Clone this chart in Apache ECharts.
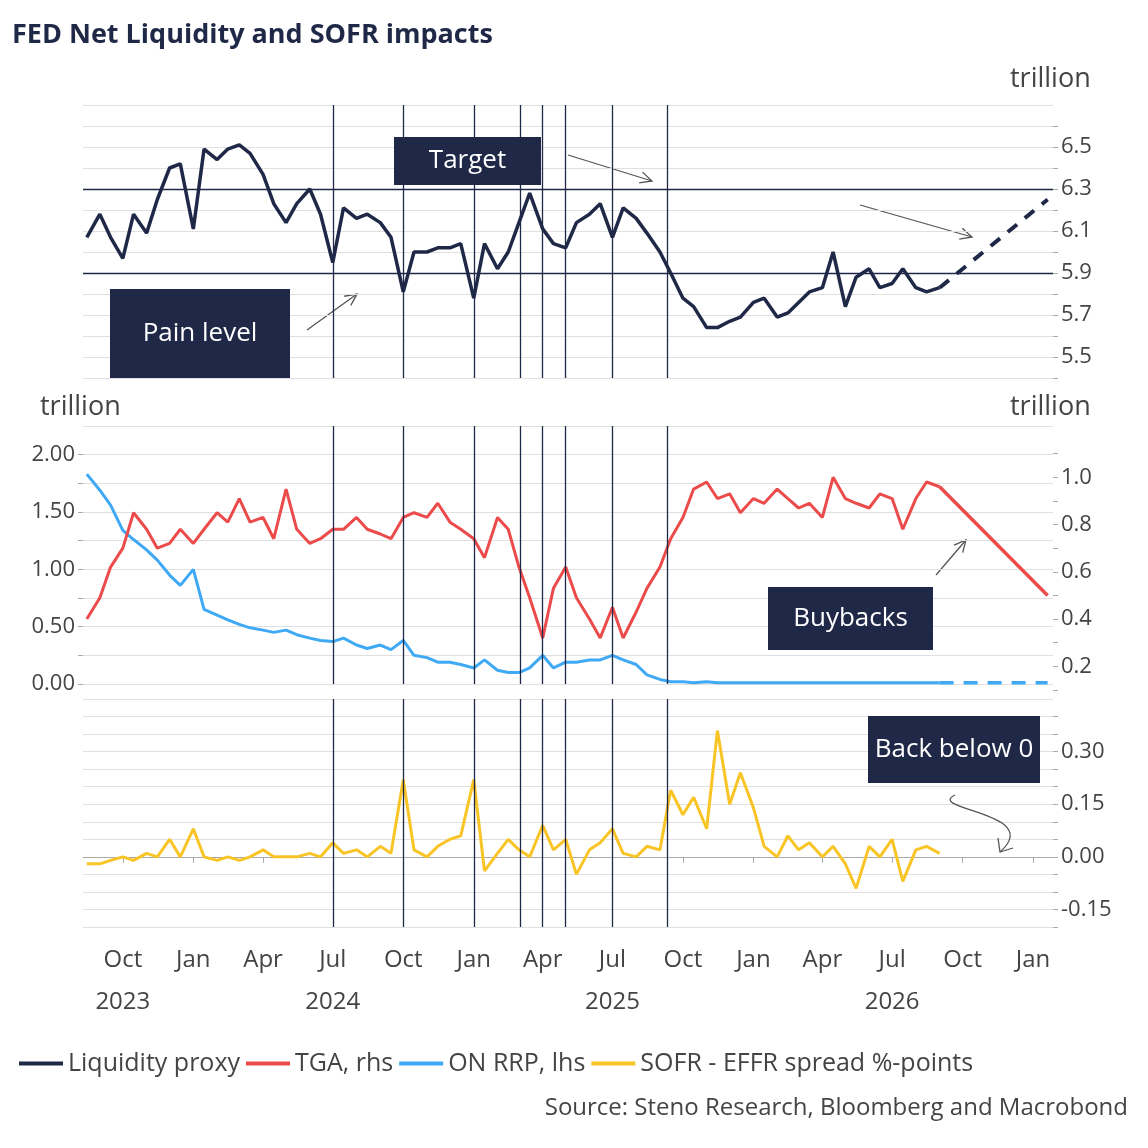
<!DOCTYPE html>
<html>
<head>
<meta charset="utf-8">
<script src="https://cdn.jsdelivr.net/npm/echarts@6/dist/echarts.min.js"></script>
<style>html,body{margin:0;padding:0;background:#fff}#chart{width:1148px;height:1148px}</style>
</head>
<body>
<div id="chart"></div>
<script>
// half-month sample dates, 2023-08-15 .. 2026-09-01
const dates = []
for (let y = 2023, m = 7, d = 15; ; ) {
  dates.push(Date.UTC(y, m, d))
  if (y === 2026 && m === 8 && d === 1) break
  if (d === 1) d = 15
  else { d = 1; m++; if (m > 11) { m = 0; y++ } }
}

const liquidity = [6.07, 6.18, 6.07, 5.97, 6.18, 6.09, 6.25, 6.40, 6.42, 6.11, 6.49, 6.44, 6.49, 6.51, 6.47, 6.37,
  6.23, 6.14, 6.23, 6.30, 6.18, 5.95, 6.21, 6.16, 6.18, 6.14, 6.07, 5.81, 6.00, 6.00, 6.02, 6.02, 6.04, 5.78,
  6.04, 5.92, 6.00, 6.14, 6.28, 6.11, 6.04, 6.02, 6.14, 6.18, 6.23, 6.07, 6.21, 6.16, 6.09, 6.00, 5.90, 5.78,
  5.74, 5.64, 5.64, 5.67, 5.69, 5.76, 5.78, 5.69, 5.71, 5.76, 5.81, 5.83, 6.00, 5.74, 5.88, 5.92, 5.83, 5.85,
  5.92, 5.83, 5.81, 5.83]
const liquidityProj = [[Date.UTC(2026, 8, 1), 5.83], [Date.UTC(2027, 0, 20), 6.25]]

const tga = [0.40, 0.49, 0.62, 0.70, 0.85, 0.78, 0.70, 0.72, 0.78, 0.72, 0.78, 0.85, 0.81, 0.91, 0.81, 0.83,
  0.74, 0.95, 0.78, 0.72, 0.74, 0.78, 0.78, 0.83, 0.78, 0.76, 0.74, 0.83, 0.85, 0.83, 0.89, 0.81, 0.78, 0.74,
  0.66, 0.83, 0.78, 0.62, 0.49, 0.32, 0.53, 0.62, 0.49, 0.40, 0.32, 0.45, 0.32, 0.43, 0.53, 0.62, 0.74, 0.83,
  0.95, 0.98, 0.91, 0.93, 0.85, 0.91, 0.89, 0.95, 0.91, 0.87, 0.89, 0.83, 1.00, 0.91, 0.89, 0.87, 0.93, 0.91,
  0.78, 0.91, 0.98, 0.96]
const tgaProj = [[Date.UTC(2026, 8, 1), 0.96], [Date.UTC(2027, 0, 20), 0.50]]

const onrrp = [1.83, 1.69, 1.56, 1.34, 1.26, 1.17, 1.08, 0.95, 0.86, 1.00, 0.65, 0.60, 0.56, 0.52, 0.49, 0.47,
  0.45, 0.47, 0.43, 0.40, 0.38, 0.37, 0.40, 0.34, 0.31, 0.34, 0.30, 0.38, 0.25, 0.23, 0.19, 0.19, 0.17, 0.14,
  0.21, 0.12, 0.10, 0.10, 0.14, 0.25, 0.14, 0.19, 0.19, 0.21, 0.21, 0.25, 0.21, 0.17, 0.08, 0.04, 0.02, 0.02,
  0.01, 0.02, 0.01, 0.01, 0.01, 0.01, 0.01, 0.01, 0.01, 0.01, 0.01, 0.01, 0.01, 0.01, 0.01, 0.01, 0.01, 0.01,
  0.01, 0.01, 0.01, 0.01]
const onrrpProj = [[Date.UTC(2026, 8, 1), 0.01], [Date.UTC(2027, 0, 20), 0.01]]

const sofrSpread = [-0.02, -0.02, -0.01, 0.00, -0.01, 0.01, 0.00, 0.05, 0.00, 0.08, 0.00, -0.01, 0.00, -0.01,
  0.00, 0.02, 0.00, 0.00, 0.00, 0.01, 0.00, 0.04, 0.01, 0.02, 0.00, 0.03, 0.01, 0.22, 0.02, 0.00, 0.03, 0.05,
  0.06, 0.22, -0.04, 0.01, 0.05, 0.02, 0.00, 0.09, 0.02, 0.05, -0.05, 0.02, 0.04, 0.08, 0.01, 0.00, 0.03, 0.02,
  0.19, 0.12, 0.17, 0.08, 0.36, 0.15, 0.24, 0.14, 0.03, 0.00, 0.06, 0.02, 0.04, 0.00, 0.03, -0.02, -0.09, 0.03,
  0.00, 0.05, -0.07, 0.02, 0.03, 0.01]

const eventDates = ['2024-07-01', '2024-10-01', '2025-01-01', '2025-03-03', '2025-04-01', '2025-05-01', '2025-07-01', '2025-09-10']
const quarterTicks = []
for (let y = 2023, m = 9; ; ) {
  quarterTicks.push(Date.UTC(y, m, 1))
  if (y === 2027) break
  m += 3; if (m > 11) { m -= 12; y++ }
}

const NAVY = '#1f2847', RED = '#ec4b4b', BLUE = '#3fa9f5', GOLD = '#f9c425', GRID = '#e0e0e0'
const MONTHS = ['Jan', 'Feb', 'Mar', 'Apr', 'May', 'Jun', 'Jul', 'Aug', 'Sep', 'Oct', 'Nov', 'Dec']
const FONT = 'Open Sans'
const xMin = Date.UTC(2023, 7, 10), xMax = Date.UTC(2027, 0, 27)

const pair = arr => arr.map((v, i) => [dates[i], v])
const vlines = {
  silent: true, symbol: 'none', label: { show: false },
  lineStyle: { color: NAVY, width: 1.3, type: 'solid' },
  data: eventDates.map(d => ({ xAxis: Date.parse(d) }))
}
const xBase = i => ({
  type: 'value', gridIndex: i, min: xMin, max: xMax,
  axisLine: { show: false }, axisTick: { show: false }, axisLabel: { show: false }, splitLine: { show: false }
})
const everyLabel = (step, digits) => v => {
  const k = v / step
  return Math.abs(k - Math.round(k)) < 1e-6 ? v.toFixed(digits) : ''
}
const yCommon = {
  axisLine: { show: false },
  axisLabel: { color: '#444', fontSize: 22, fontFamily: FONT, showMaxLabel: false },
  splitLine: { lineStyle: { color: GRID } }
}

function arrow(x1, y1, x2, y2) {
  const a = Math.atan2(y2 - y1, x2 - x1), L = 13, w = 0.45
  return {
    type: 'group', z: 100, children: [
      { type: 'line', shape: { x1, y1, x2, y2 }, style: { stroke: '#555', lineWidth: 1.3 } },
      { type: 'polyline', shape: { points: [[x2 - L * Math.cos(a - w), y2 - L * Math.sin(a - w)], [x2, y2], [x2 - L * Math.cos(a + w), y2 - L * Math.sin(a + w)]] }, style: { stroke: '#555', lineWidth: 1.3, fill: null } }
    ]
  }
}
function box(x, y, w, h, text) {
  return {
    type: 'group', z: 100, children: [
      { type: 'rect', z: 100, shape: { x, y, width: w, height: h }, style: { fill: NAVY } },
      { type: 'text', z: 101, x: x + w / 2, y: y + h / 2, style: { text, fill: '#fff', font: '26px "' + FONT + '"', align: 'center', verticalAlign: 'middle' } }
    ]
  }
}
const txt = (x, y, text, size, extra) => ({ type: 'text', x, y, z: 100, style: Object.assign({ text, fill: '#444', font: size + 'px "' + FONT + '"' }, extra || {}) })

const chart = echarts.init(document.getElementById('chart'))
chart.setOption({
  animation: false,
  grid: [
    { left: 83, right: 95, top: 105, height: 273 },
    { left: 83, right: 95, top: 426, height: 258 },
    { left: 83, right: 95, top: 430, height: 260 },
    { left: 83, right: 95, top: 699, height: 228 }
  ],
  xAxis: [xBase(0), xBase(1), xBase(2), {
    type: 'value', gridIndex: 3, min: xMin, max: xMax,
    axisLine: { show: true, lineStyle: { color: '#aaa' } },
    axisTick: { show: true, customValues: quarterTicks, lineStyle: { color: '#aaa' }, length: 6 },
    splitLine: { show: false },
    axisLabel: {
      customValues: quarterTicks, color: '#444', fontSize: 24, fontFamily: FONT, lineHeight: 42, margin: 12,
      formatter: v => {
        const d = new Date(v), m = d.getUTCMonth(), y = d.getUTCFullYear()
        const yr = (m === 6 || (y === 2023 && m === 9)) ? y : ''
        return MONTHS[m] + '\n' + yr
      }
    }
  }],
  yAxis: [
    Object.assign({}, yCommon, { gridIndex: 0, position: 'right', min: 5.4, max: 6.7, interval: 0.1,
      axisTick: { show: true, lineStyle: { color: '#aaa' } },
      axisLabel: Object.assign({}, yCommon.axisLabel, { formatter: v => (Math.round(v * 10) % 2 === 1 ? v.toFixed(1) : '') }) }),
    Object.assign({}, yCommon, { gridIndex: 1, position: 'left', min: 0, max: 2.25, interval: 0.25,
      axisTick: { show: true, lineStyle: { color: '#aaa' } },
      axisLabel: Object.assign({}, yCommon.axisLabel, { formatter: everyLabel(0.5, 2) }) }),
    Object.assign({}, yCommon, { gridIndex: 2, position: 'right', min: 0.1, max: 1.2, interval: 0.1,
      splitLine: { show: false }, axisTick: { show: true, lineStyle: { color: '#aaa' } },
      axisLabel: Object.assign({}, yCommon.axisLabel, { formatter: v => (Math.round(v * 10) % 2 === 0 ? v.toFixed(1) : '') }) }),
    Object.assign({}, yCommon, { gridIndex: 3, position: 'right', min: -0.2, max: 0.45, interval: 0.05,
      axisTick: { show: true, lineStyle: { color: '#aaa' } },
      axisLabel: Object.assign({}, yCommon.axisLabel, { formatter: everyLabel(0.15, 2) }) })
  ],
  legend: {
    left: 14, top: 1046, itemGap: 6, itemWidth: 44, itemHeight: 4, icon: 'rect',
    textStyle: { color: '#444', fontSize: 25, fontFamily: FONT },
    data: ['Liquidity proxy', 'TGA, rhs', 'ON RRP, lhs', 'SOFR - EFFR spread %-points']
  },
  series: [
    { name: 'Liquidity proxy', type: 'line', xAxisIndex: 0, yAxisIndex: 0, data: pair(liquidity), showSymbol: false,
      color: NAVY, lineStyle: { width: 3.5, color: NAVY },
      markLine: Object.assign({}, vlines, { data: vlines.data.concat([{ yAxis: 6.3 }, { yAxis: 5.9 }]) }) },
    { name: 'liqProj', type: 'line', xAxisIndex: 0, yAxisIndex: 0, data: liquidityProj, showSymbol: false,
      lineStyle: { width: 4, color: NAVY, type: [12, 10] } },
    { name: 'ON RRP, lhs', type: 'line', xAxisIndex: 1, yAxisIndex: 1, data: pair(onrrp), showSymbol: false,
      color: BLUE, lineStyle: { width: 3, color: BLUE }, markLine: vlines },
    { name: 'rrpProj', type: 'line', xAxisIndex: 1, yAxisIndex: 1, data: onrrpProj, showSymbol: false,
      lineStyle: { width: 3.5, color: BLUE, type: [14, 10] } },
    { name: 'TGA, rhs', type: 'line', xAxisIndex: 2, yAxisIndex: 2, data: pair(tga), showSymbol: false,
      color: RED, lineStyle: { width: 3, color: RED } },
    { name: 'tgaProj', type: 'line', xAxisIndex: 2, yAxisIndex: 2, data: tgaProj, showSymbol: false,
      lineStyle: { width: 3.5, color: RED } },
    { name: 'SOFR - EFFR spread %-points', type: 'line', xAxisIndex: 3, yAxisIndex: 3, data: pair(sofrSpread), showSymbol: false,
      color: GOLD, lineStyle: { width: 3, color: GOLD }, markLine: vlines }
  ],
  graphic: [
    txt(12, 22, 'FED Net Liquidity and SOFR impacts', 27, { fill: NAVY, font: 'bold 27px "' + FONT + '"' }),
    txt(1010, 66, 'trillion', 27),
    txt(40, 394, 'trillion', 27),
    txt(1010, 394, 'trillion', 27),
    txt(1128, 1096, 'Source: Steno Research, Bloomberg and Macrobond', 24, { align: 'right' }),
    box(394, 137, 147, 48, 'Target'),
    box(110, 289, 180, 89, 'Pain level'),
    box(768, 587, 165, 63, 'Buybacks'),
    box(868, 716, 172, 67, 'Back below 0'),
    arrow(568, 155, 652, 181),
    arrow(860, 205, 972, 237),
    arrow(307, 330, 357, 294),
    arrow(936, 575, 966, 540),
    { type: 'bezierCurve', z: 100, shape: { x1: 955, y1: 795, cpx1: 925, cpy1: 810, cpx2: 1045, cpy2: 812, x2: 1000, y2: 852 }, style: { stroke: '#555', lineWidth: 1.3, fill: null } },
    { type: 'polyline', z: 100, shape: { points: [[998, 838], [1000, 852], [1013, 848]] }, style: { stroke: '#555', lineWidth: 1.3, fill: null } }
  ]
})
</script>
</body>
</html>
